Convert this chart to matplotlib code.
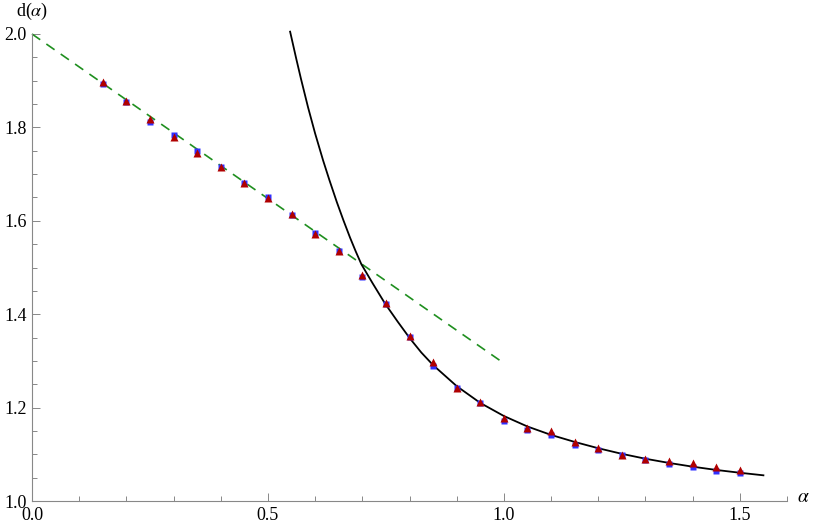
import matplotlib
matplotlib.use("Agg")
import matplotlib.pyplot as plt
from matplotlib.ticker import MultipleLocator, FormatStrFormatter

plt.rcParams["font.family"] = ["Liberation Serif", "DejaVu Serif"]
plt.rcParams["mathtext.fontset"] = "stix"

# data
alpha = [0.15, 0.20, 0.25, 0.30, 0.35, 0.40, 0.45, 0.50, 0.55, 0.60,
         0.65, 0.70, 0.75, 0.80, 0.85, 0.90, 0.95, 1.00, 1.05, 1.10,
         1.15, 1.20, 1.25, 1.30, 1.35, 1.40, 1.45, 1.50]
d_red = [1.897, 1.856, 1.817, 1.779, 1.745, 1.716, 1.682, 1.648, 1.615, 1.571,
         1.536, 1.485, 1.424, 1.353, 1.297, 1.243, 1.211, 1.177, 1.157, 1.149,
         1.127, 1.113, 1.099, 1.091, 1.085, 1.081, 1.073, 1.066]
d_blue = [1.894, 1.855, 1.811, 1.783, 1.749, 1.715, 1.681, 1.651, 1.613, 1.573,
          1.535, 1.479, 1.421, 1.352, 1.290, 1.242, 1.210, 1.172, 1.153, 1.141,
          1.120, 1.110, 1.098, 1.088, 1.080, 1.073, 1.065, 1.061]

# black curve
curve_a = [0.547, 0.560, 0.570, 0.585, 0.600, 0.617, 0.630, 0.646, 0.660, 0.674,
           0.686, 0.698, 0.722, 0.748, 0.775, 0.801, 0.825, 0.850, 0.900, 0.950,
           1.000, 1.050, 1.100, 1.150, 1.200, 1.250, 1.300, 1.350, 1.400, 1.450,
           1.500, 1.550]
curve_d = [2.005, 1.947, 1.904, 1.843, 1.787, 1.729, 1.688, 1.640, 1.601, 1.564,
           1.5346, 1.507, 1.466, 1.423, 1.384, 1.348, 1.318, 1.291, 1.246, 1.210,
           1.182, 1.1595, 1.1415, 1.1265, 1.113, 1.101, 1.0905, 1.0815, 1.0735, 1.0665,
           1.0605, 1.055]

line_a = [0.0, 1.0]
line_d = [2.0, 1.295]

fig = plt.figure(figsize=(8.17, 5.31), dpi=100)
ax = fig.add_axes([32 / 817, 30 / 531, 755 / 817, 467 / 531])

ax.plot(line_a, line_d, "--", color="#1f8f1f", lw=1.2, dashes=(6, 4.5), clip_on=False)
ax.plot(curve_a, curve_d, "-", color="black", lw=1.3, clip_on=False)
ax.plot(alpha, d_blue, "s", color="#3030ff", ms=4, mec="none", clip_on=False)
ax.plot(alpha, d_red, "^", color="#b00000", ms=5.5, mec="none", clip_on=False)

ax.set_xlim(0, 1.6)
ax.set_ylim(1.0, 2.0)
for s in ["top", "right"]:
    ax.spines[s].set_visible(False)
for s in ["left", "bottom"]:
    ax.spines[s].set_color("#888888")
    ax.spines[s].set_linewidth(0.8)

ax.xaxis.set_major_locator(MultipleLocator(0.5))
ax.xaxis.set_minor_locator(MultipleLocator(0.1))
ax.yaxis.set_major_locator(MultipleLocator(0.2))
ax.yaxis.set_minor_locator(MultipleLocator(0.05))
ax.xaxis.set_major_formatter(FormatStrFormatter("%.1f"))
ax.yaxis.set_major_formatter(FormatStrFormatter("%.1f"))
ax.tick_params(which="both", direction="in", color="#888888", width=0.7,
               labelsize=13, pad=4)
ax.tick_params(which="major", length=6)
ax.tick_params(which="minor", length=3.5)

fig.text(32 / 817, 1 - 11 / 531, r"d($\alpha$)", fontsize=13, ha="center", va="center")
fig.text(803 / 817, 1 - 497 / 531, r"$\alpha$", fontsize=14, ha="center", va="center")

fig.savefig("out.png", dpi=100)
